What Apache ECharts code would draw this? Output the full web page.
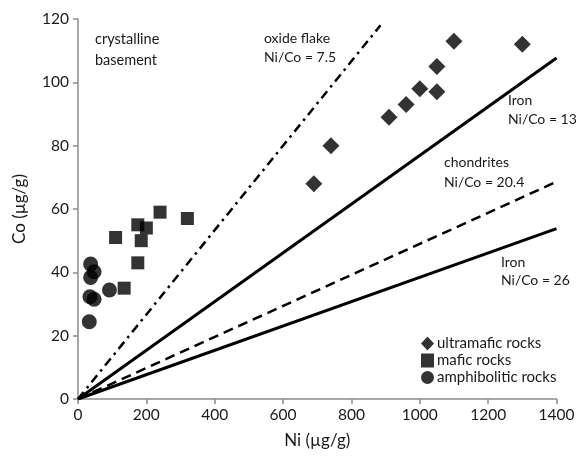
<!DOCTYPE html>
<html>
<head>
<meta charset="utf-8">
<script src="https://cdn.jsdelivr.net/npm/echarts@6/dist/echarts.min.js"></script>
<style>html,body{margin:0;padding:0;background:#fff;}#c{width:579px;height:461px;}</style>
</head>
<body>
<div id="c"></div>
<script>
// Data (Ni, Co in µg/g)
const ultramafic = [[690,68],[740,80],[910,89],[960,93],[1000,98],[1050,97],[1050,105],[1100,113],[1300,112]];
const mafic = [[110,51],[240,59],[320,57],[175,55],[200,54],[185,50],[175,43],[135,35]];
const amphibolitic = [[37,42.6],[47,40.2],[37,38.4],[35,32.3],[47,31.5],[33,24.4],[92,34.4]];
// Reference lines (endpoints)
const oxideFlake = [[0,0],[885,118]];      // Ni/Co = 7.5
const iron13 = [[0,0],[1400,107.7]];       // Ni/Co = 13
const chondrites = [[0,0],[1400,68.6]];    // Ni/Co = 20.4
const iron26 = [[0,0],[1400,53.8]];        // Ni/Co = 26
const xTicks = [0,200,400,600,800,1000,1200,1400];
const yTicks = [0,20,40,60,80,100,120];

const FONT = 'Lato';
const TXT = '#1a1a1a';
const chart = echarts.init(document.getElementById('c'), null, {renderer:'canvas'});
function txt(x, y, s, size) {
  return {type:'text', left:x, top:y, style:{text:s, font:(size||14)+'px ' + FONT, fill:TXT}};
}
chart.setOption({
  animation:false,
  backgroundColor:'#fff',
  grid:{left:78, right:22.5, top:19, bottom:62},
  xAxis:{type:'value', min:xTicks[0], max:xTicks[xTicks.length-1], interval:200,
    name:'Ni (µg/g)', nameLocation:'middle', nameGap:33,
    nameTextStyle:{fontFamily:FONT, fontSize:17, color:TXT},
    axisLine:{lineStyle:{color:'#8c8c8c', width:1.5}},
    axisTick:{show:true, length:5, lineStyle:{color:'#8c8c8c', width:1.5}},
    axisLabel:{fontFamily:FONT, fontSize:15.5, color:TXT, margin:8, formatter:v => String(v)},
    splitLine:{show:false}},
  yAxis:{type:'value', min:yTicks[0], max:yTicks[yTicks.length-1], interval:20,
    name:'Co (µg/g)', nameLocation:'middle', nameGap:50,
    nameTextStyle:{fontFamily:FONT, fontSize:17, color:TXT},
    axisLine:{show:true, lineStyle:{color:'#8c8c8c', width:1.5}},
    axisTick:{show:true, length:5, lineStyle:{color:'#8c8c8c', width:1.5}},
    axisLabel:{fontFamily:FONT, fontSize:15.5, color:TXT, margin:9},
    splitLine:{show:false}},
  legend:{orient:'vertical', left:416, top:331, itemGap:2, itemWidth:13, itemHeight:14,
    textStyle:{fontFamily:FONT, fontSize:15, color:TXT, padding:[0,0,0,-2]},
    data:[{name:'ultramafic rocks', icon:'diamond'},{name:'mafic rocks', icon:'rect'},{name:'amphibolitic rocks', icon:'circle'}]},
  series:[
    {type:'line', data:oxideFlake, symbol:'none', silent:true, lineStyle:{color:'#000', width:2.5, type:[9,5,2.5,5]}},
    {type:'line', data:iron13, symbol:'none', silent:true, lineStyle:{color:'#000', width:3}},
    {type:'line', data:chondrites, symbol:'none', silent:true, lineStyle:{color:'#000', width:2.5, type:[10,6]}},
    {type:'line', data:iron26, symbol:'none', silent:true, lineStyle:{color:'#000', width:3}},
    {name:'ultramafic rocks', type:'scatter', data:ultramafic, symbol:'diamond', symbolSize:17, itemStyle:{color:'#000'}},
    {name:'mafic rocks', type:'scatter', data:mafic, symbol:'rect', symbolSize:13, itemStyle:{color:'#000'}},
    {name:'amphibolitic rocks', type:'scatter', data:amphibolitic, symbol:'circle', symbolSize:15, itemStyle:{color:'#000'}}
  ],
  graphic:[
    txt(95, 32, 'crystalline', 14.5),
    txt(95, 53, 'basement', 14.5),
    txt(264, 31, 'oxide flake', 14),
    txt(264, 50, 'Ni/Co = 7.5', 14),
    txt(508, 93, 'Iron', 14),
    txt(508, 112, 'Ni/Co = 13', 14),
    txt(444, 155, 'chondrites', 14),
    txt(444, 175, 'Ni/Co = 20.4', 14),
    txt(501, 255, 'Iron', 14),
    txt(501, 273, 'Ni/Co = 26', 14)
  ]
});
</script>
</body>
</html>
